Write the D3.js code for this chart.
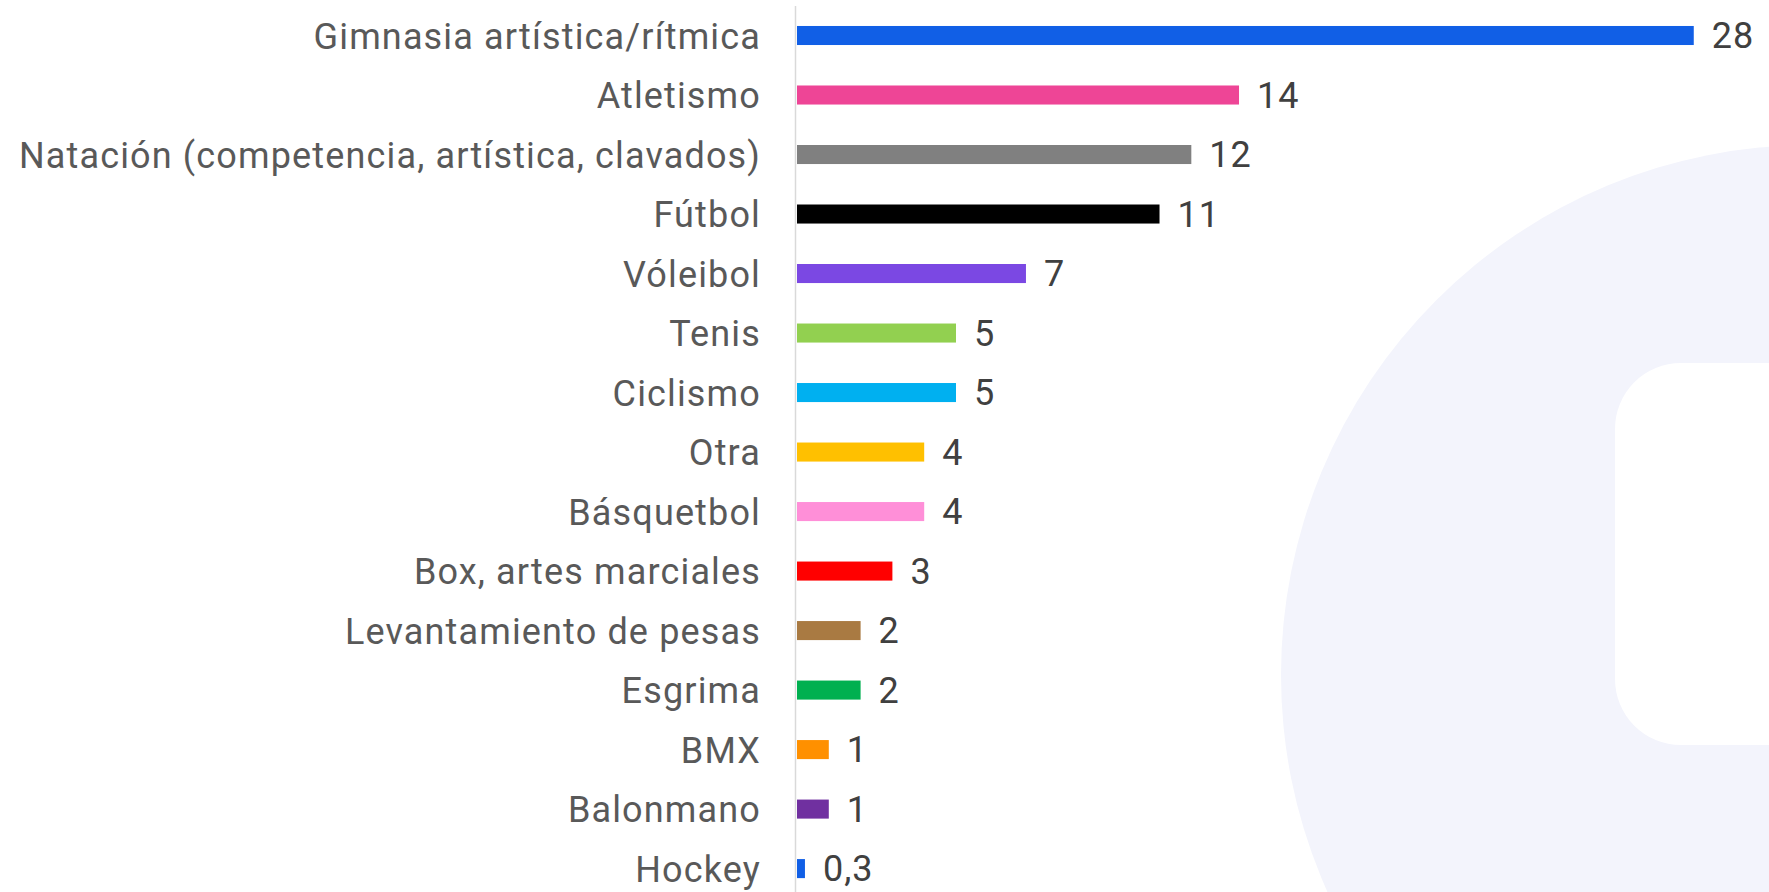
<!DOCTYPE html>
<html lang="es">
  <head>
    <meta charset="UTF-8" />
    <title>Deportes</title>
    <script src="https://d3js.org/d3.v7.min.js"></script>
    <style>
      body {
        margin: 0;
        background: #fff;
      }
      .cat {
        font: 36px Roboto, sans-serif;
        letter-spacing: 1.15px;
        fill: #595959;
      }
      .val {
        font: 36px Roboto, sans-serif;
        letter-spacing: 1px;
        fill: #404040;
      }
    </style>
  </head>
  <body>
    <svg width="1769" height="892"></svg>

    <script>
      const categories = [
        "Gimnasia artística/rítmica",
        "Atletismo",
        "Natación (competencia, artística, clavados)",
        "Fútbol",
        "Vóleibol",
        "Tenis",
        "Ciclismo",
        "Otra",
        "Básquetbol",
        "Box, artes marciales",
        "Levantamiento de pesas",
        "Esgrima",
        "BMX",
        "Balonmano",
        "Hockey",
      ];
      const values = [28.2, 13.9, 12.4, 11.4, 7.2, 5, 5, 4, 4, 3, 2, 2, 1, 1, 0.25];
      const valueLabels = ["28", "14", "12", "11", "7", "5", "5", "4", "4", "3", "2", "2", "1", "1", "0,3"];
      const colors = [
        "#115fe6", "#ee4596", "#808080", "#000000", "#7b48e3",
        "#92d050", "#00b0f0", "#ffc000", "#ff8fd8", "#ff0000",
        "#a97a42", "#00b050", "#ff9000", "#7030a0", "#115fe6",
      ];

      const width = 1769;
      const height = 892;
      const svg = d3.select("svg");

      // faint watermark in the background
      const bg = svg.append("g");
      bg.append("circle")
        .attr("cx", 1811)
        .attr("cy", 675)
        .attr("r", 530)
        .attr("fill", "#f3f4fc");
      bg.append("rect")
        .attr("x", 1615)
        .attr("y", 363)
        .attr("width", 300)
        .attr("height", 382)
        .attr("rx", 66)
        .attr("fill", "#fff");

      const x = d3.scaleLinear().domain([0, 30]).range([797, 1751]);
      const y = d3
        .scaleBand()
        .domain(categories)
        .range([5.75, 898.35])
        .paddingInner(0.68)
        .paddingOuter(0.34);

      const rows = categories.map((c, i) => ({
        cat: c,
        value: values[i],
        label: valueLabels[i],
        color: colors[i],
      }));

      svg.append("g")
        .selectAll("rect")
        .data(rows)
        .join("rect")
        .attr("x", x(0))
        .attr("y", (d) => y(d.cat))
        .attr("width", (d) => x(d.value) - x(0))
        .attr("height", y.bandwidth())
        .attr("fill", (d) => d.color);

      svg.append("line")
        .attr("x1", 795.5)
        .attr("x2", 795.5)
        .attr("y1", 6)
        .attr("y2", height)
        .attr("stroke", "#d9d9d9")
        .attr("stroke-width", 1.5);

      svg.append("g")
        .selectAll("text")
        .data(rows)
        .join("text")
        .attr("class", "cat")
        .attr("x", 761)
        .attr("y", (d) => y(d.cat) + y.bandwidth() / 2 + 13)
        .attr("text-anchor", "end")
        .text((d) => d.cat);

      svg.append("g")
        .selectAll("text")
        .data(rows)
        .join("text")
        .attr("class", "val")
        .attr("x", (d) => x(d.value) + 18)
        .attr("y", (d) => y(d.cat) + y.bandwidth() / 2 + 12.5)
        .text((d) => d.label);
    </script>
  </body>
</html>
